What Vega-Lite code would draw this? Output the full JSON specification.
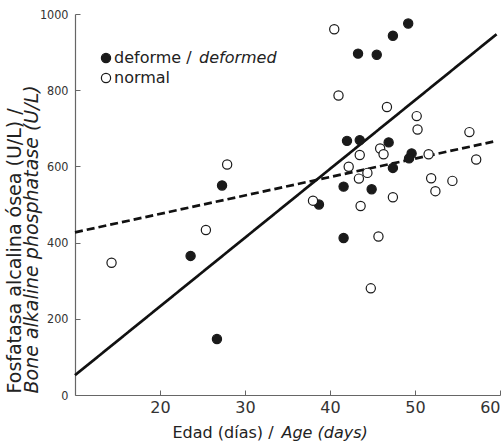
{
  "$schema": "https://vega.github.io/schema/vega-lite/v6.json",
  "width": 425,
  "height": 381,
  "autosize": {"type": "none"},
  "padding": {"left": 75, "top": 14, "right": 1, "bottom": 47},
  "background": "white",
  "config": {
    "view": {"stroke": null},
    "axis": {"grid": false, "titleFontWeight": "normal", "titleColor": "#222", "labelColor": "#333", "domainColor": "#666", "tickColor": "#666"}
  },
  "datasets": {
    "puntos": [
      {"grupo": "deforme", "edad": 49.2, "fal": 975},
      {"grupo": "deforme", "edad": 47.4, "fal": 943},
      {"grupo": "deforme", "edad": 43.3, "fal": 896},
      {"grupo": "deforme", "edad": 45.5, "fal": 893},
      {"grupo": "deforme", "edad": 42.0, "fal": 667},
      {"grupo": "deforme", "edad": 43.5, "fal": 669},
      {"grupo": "deforme", "edad": 46.9, "fal": 663},
      {"grupo": "deforme", "edad": 49.6, "fal": 634},
      {"grupo": "deforme", "edad": 49.3, "fal": 621},
      {"grupo": "deforme", "edad": 47.4, "fal": 596},
      {"grupo": "deforme", "edad": 41.6, "fal": 547},
      {"grupo": "deforme", "edad": 44.9, "fal": 540},
      {"grupo": "deforme", "edad": 38.7, "fal": 500},
      {"grupo": "deforme", "edad": 41.6, "fal": 412},
      {"grupo": "deforme", "edad": 27.3, "fal": 550},
      {"grupo": "deforme", "edad": 23.6, "fal": 365},
      {"grupo": "deforme", "edad": 26.7, "fal": 147},
      {"grupo": "normal", "edad": 40.5, "fal": 960},
      {"grupo": "normal", "edad": 41.0, "fal": 786},
      {"grupo": "normal", "edad": 46.7, "fal": 756},
      {"grupo": "normal", "edad": 50.2, "fal": 732},
      {"grupo": "normal", "edad": 50.3, "fal": 697},
      {"grupo": "normal", "edad": 56.4, "fal": 690},
      {"grupo": "normal", "edad": 45.9, "fal": 647},
      {"grupo": "normal", "edad": 46.3, "fal": 632},
      {"grupo": "normal", "edad": 43.5, "fal": 630},
      {"grupo": "normal", "edad": 51.6, "fal": 632},
      {"grupo": "normal", "edad": 57.2, "fal": 618},
      {"grupo": "normal", "edad": 42.2, "fal": 599},
      {"grupo": "normal", "edad": 44.4, "fal": 583},
      {"grupo": "normal", "edad": 43.4, "fal": 568},
      {"grupo": "normal", "edad": 51.9, "fal": 569},
      {"grupo": "normal", "edad": 54.4, "fal": 562},
      {"grupo": "normal", "edad": 52.4, "fal": 535},
      {"grupo": "normal", "edad": 47.4, "fal": 519},
      {"grupo": "normal", "edad": 38.0, "fal": 510},
      {"grupo": "normal", "edad": 43.6, "fal": 496},
      {"grupo": "normal", "edad": 45.7, "fal": 416},
      {"grupo": "normal", "edad": 44.8, "fal": 280},
      {"grupo": "normal", "edad": 27.9, "fal": 605},
      {"grupo": "normal", "edad": 25.4, "fal": 433},
      {"grupo": "normal", "edad": 14.3, "fal": 347}
    ],
    "rectas": [
      {"serie": "deforme", "edad": 10, "fal": 52},
      {"serie": "deforme", "edad": 59.6, "fal": 947},
      {"serie": "normal", "edad": 10, "fal": 427},
      {"serie": "normal", "edad": 59.2, "fal": 665}
    ]
  },
  "resolve": {"axis": {"x": "independent", "y": "independent"}},
  "layer": [
    {
      "data": {"name": "rectas"},
      "mark": {"type": "line", "color": "#111", "strokeWidth": 2.7, "strokeCap": "butt"},
      "encoding": {
        "x": {"field": "edad", "type": "quantitative", "scale": {"domain": [10, 60], "nice": false, "zero": false},
          "axis": {"orient": "bottom", "labels": false, "ticks": false, "domain": false, "title": "Age (days)", "titleFont": "DejaVu Sans", "titleFontSize": 16, "titleFontStyle": "italic", "titleAlign": "left", "titleBaseline": "alphabetic", "titleX": 206, "titleY": 42}},
        "y": {"field": "fal", "type": "quantitative", "scale": {"domain": [0, 1000], "nice": false},
          "axis": {"orient": "left", "labels": false, "ticks": false, "domain": false, "title": "Bone alkaline phosphatase (U/L)", "titleFont": "DejaVu Sans", "titleFontSize": 19, "titleFontStyle": "italic", "titleAngle": 270, "titleAlign": "left", "titleBaseline": "middle", "titleX": -44, "titleY": 379}},
        "detail": {"field": "serie"},
        "strokeDash": {"field": "serie", "type": "nominal", "scale": {"domain": ["normal", "deforme"], "range": [[8, 4], [1, 0]]},
          "legend": {"orient": "none", "legendX": 108, "legendY": 16, "title": null, "labelExpr": "datum.label == 'deforme' ? 'deformed' : ''", "labelFont": "DejaVu Sans", "labelFontStyle": "italic", "labelFontSize": 16, "labelColor": "#222", "symbolSize": 0, "symbolStrokeWidth": 0, "symbolOpacity": 0, "labelOffset": 0, "rowPadding": 4, "padding": 0}}
      }
    },
    {
      "data": {"name": "puntos"},
      "mark": {"type": "point", "shape": "circle", "size": 85, "stroke": "#1a1a1a", "strokeWidth": 1.2, "opacity": 1},
      "encoding": {
        "x": {"field": "edad", "type": "quantitative",
          "axis": {"orient": "bottom", "values": [20, 30, 40, 50, 60], "tickSize": -5, "domainWidth": 1.2, "labelFont": "DejaVu Sans", "labelFontSize": 16, "labelPadding": 9, "title": "Edad (días) /", "titleFont": "DejaVu Sans", "titleFontSize": 16, "titleAlign": "left", "titleBaseline": "alphabetic", "titleX": 97, "titleY": 42}},
        "y": {"field": "fal", "type": "quantitative",
          "axis": {"orient": "left", "values": [0, 200, 400, 600, 800, 1000], "format": "d", "tickSize": -5, "domainWidth": 1.2, "labelFont": "DejaVu Sans Condensed", "labelFontSize": 12.5, "labelPadding": 12, "title": "Fosfatasa alcalina ósea (U/L) /", "titleFont": "DejaVu Sans", "titleFontSize": 19, "titleAngle": 270, "titleAlign": "left", "titleBaseline": "middle", "titleX": -61, "titleY": 379}},
        "fill": {"field": "grupo", "type": "nominal", "scale": {"domain": ["deforme", "normal"], "range": ["#1a1a1a", "#ffffff"]},
          "legend": {"orient": "none", "legendX": 23, "legendY": 36, "title": null, "labelExpr": "datum.label == 'deforme' ? 'deforme /' : datum.label", "symbolType": "circle", "symbolSize": 85, "symbolStrokeColor": "#1a1a1a", "symbolStrokeWidth": 1.2, "symbolOpacity": 1, "labelFont": "DejaVu Sans", "labelFontSize": 16, "labelColor": "#222", "labelOffset": 0, "rowPadding": 4, "padding": 0}}
      }
    }
  ]
}
